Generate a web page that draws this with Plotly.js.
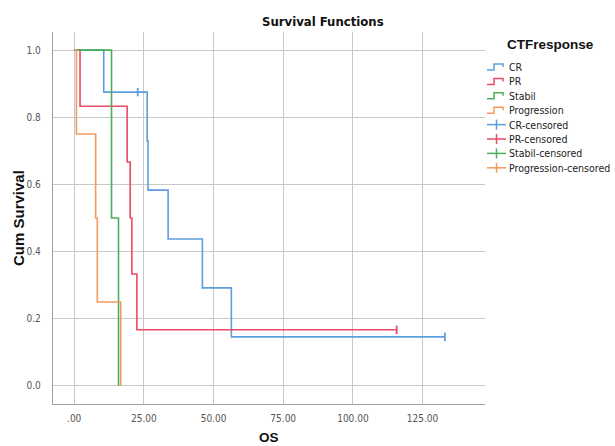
<!DOCTYPE html>
<html><head><meta charset="utf-8">
<script src="https://cdn.plot.ly/plotly-3.0.1.min.js"></script>
<style>body{margin:0;background:#fff}</style>
</head><body>
<div id="chart" style="width:615px;height:446px"></div>
<script>
// ---- data ----
const crTimes = [0, 10.6, 26.2, 26.5, 33.7, 46.0, 56.4, 133.0];
const crSurv  = [1, 0.875, 0.729, 0.583, 0.4375, 0.292, 0.146, 0.146];
const crCensTimes = [22.8, 133.0];
const crCensSurv  = [0.875, 0.146];

const prTimes = [0, 2.1, 19.0, 20.1, 20.7, 22.5, 115.7];
const prSurv  = [1, 0.833, 0.667, 0.5, 0.333, 0.167, 0.167];
const prCensTimes = [115.7];
const prCensSurv  = [0.167];

const stTimes = [0, 13.4, 15.9];
const stSurv  = [1, 0.5, 0];

const pgTimes = [0, 0.8, 7.7, 8.3, 16.7];
const pgSurv  = [1, 0.75, 0.5, 0.25, 0];

const xTickVals = [0, 25, 50, 75, 100, 125];
const xTickText = ['.00', '25.00', '50.00', '75.00', '100.00', '125.00'];
const yTickVals = [0, 0.2, 0.4, 0.6, 0.8, 1.0];
const yTickText = ['0.0', '0.2', '0.4', '0.6', '0.8', '1.0'];

const groupNames = ['CR', 'PR', 'Stabil', 'Progression'];
const legendNames = ['CR', 'PR', 'Stabil', 'Progression',
  'CR-censored', 'PR-censored', 'Stabil-censored', 'Progression-censored'];

// ---- styles ----
const colors = ['#5d9fdc', '#ea4a66', '#4cae5a', '#f59a5e'];
const W = 615, H = 446, ML = 53, MR = 130, MT = 32, MB = 42;
const PW = W - ML - MR, PH = H - MT - MB;
const px = x => (x - ML) / PW;
const py = y => (H - MB - y) / PH;

const condFam = 'DejaVu Sans Condensed, Liberation Sans Narrow, Arial Narrow, sans-serif';
const tickFont = {family: condFam, size: 10, color: '#555'};
const legFont = {family: condFam, size: 10.5, color: '#222'};

function stepTrace(t, s, c) {
  return {x: t, y: s, type: 'scatter', mode: 'lines', line: {shape: 'hv', color: c, width: 1.6},
          showlegend: false, hoverinfo: 'skip'};
}
function censTrace(t, s, c) {
  return {x: t, y: s, type: 'scatter', mode: 'markers',
          marker: {symbol: 'line-ns-open', size: 6, color: c, line: {color: c, width: 1.8}},
          showlegend: false, hoverinfo: 'skip'};
}

const data = [
  stepTrace(crTimes, crSurv, colors[0]),
  stepTrace(prTimes, prSurv, colors[1]),
  stepTrace(stTimes, stSurv, colors[2]),
  stepTrace(pgTimes, pgSurv, colors[3]),
  censTrace(crCensTimes, crCensSurv, colors[0]),
  censTrace(prCensTimes, prCensSurv, colors[1])
];

// ---- custom legend ----
const shapes = [];
const annotations = [];
const legY0 = 67, legDy = 14.4, gx0 = 487, gx1 = 506, tx = 507;
legendNames.forEach((name, i) => {
  const c = colors[i % 4];
  const yc = legY0 + i * legDy;
  if (i < 4) {
    const yb = yc + 3, yt = yc - 3;
    const path = `M ${px(gx0)} ${py(yb)} L ${px(494)} ${py(yb)} L ${px(494)} ${py(yt)} L ${px(503)} ${py(yt)} L ${px(503)} ${py(yc)}`;
    shapes.push({type: 'path', xref: 'paper', yref: 'paper', path: path, line: {color: c, width: 1.5}});
  } else {
    shapes.push({type: 'line', xref: 'paper', yref: 'paper', x0: px(gx0), x1: px(gx1), y0: py(yc), y1: py(yc), line: {color: c, width: 1.5}});
    shapes.push({type: 'line', xref: 'paper', yref: 'paper', x0: px(496.5), x1: px(496.5), y0: py(yc - 5), y1: py(yc + 5), line: {color: c, width: 1.5}});
  }
  annotations.push({xref: 'paper', yref: 'paper', x: px(tx), y: py(yc), xanchor: 'left', yanchor: 'middle',
    text: name, showarrow: false, font: legFont});
});
annotations.push({xref: 'paper', yref: 'paper', x: px(550), y: py(45), xanchor: 'center', yanchor: 'middle',
  text: 'CTFresponse', showarrow: false, font: {family: 'Liberation Sans, Arial, sans-serif', size: 13.5, weight: 'bold', color: '#111'}});
// titles
annotations.push({xref: 'paper', yref: 'paper', x: px(323), y: py(21), xanchor: 'center', yanchor: 'middle',
  text: 'Survival Functions', showarrow: false, font: {family: condFam, size: 13, weight: 'bold', color: '#111'}});
annotations.push({xref: 'paper', yref: 'paper', x: px(18), y: py(218), xanchor: 'center', yanchor: 'middle', textangle: -90,
  text: 'Cum Survival', showarrow: false, font: {family: 'Liberation Sans, Arial, sans-serif', size: 15, weight: 'bold', color: '#111'}});
annotations.push({xref: 'paper', yref: 'paper', x: px(269), y: py(438), xanchor: 'center', yanchor: 'middle',
  text: 'OS', showarrow: false, font: {family: 'Liberation Sans, Arial, sans-serif', size: 13.5, weight: 'bold', color: '#111'}});

const layout = {
  width: W, height: H,
  margin: {l: ML, r: MR, t: MT, b: MB, pad: 0},
  paper_bgcolor: '#fff', plot_bgcolor: '#fff',
  showlegend: false,
  xaxis: {range: [-7.6, 147.4], tickvals: xTickVals, ticktext: xTickText, showgrid: true, gridcolor: '#c8c8c8', gridwidth: 1,
          zeroline: false, showline: true, linecolor: '#a0a0a0', linewidth: 1.2, ticks: '', ticklabelstandoff: 5,
          tickfont: tickFont, fixedrange: true},
  yaxis: {range: [-0.054, 1.054], tickvals: yTickVals, ticktext: yTickText, showgrid: true, gridcolor: '#c8c8c8', gridwidth: 1,
          zeroline: false, showline: true, linecolor: '#a0a0a0', linewidth: 1.2, ticks: '', ticklabelstandoff: 9,
          tickfont: tickFont, fixedrange: true},
  shapes: shapes,
  annotations: annotations
};

Plotly.newPlot('chart', data, layout, {displayModeBar: false, staticPlot: true});
</script>
</body></html>
